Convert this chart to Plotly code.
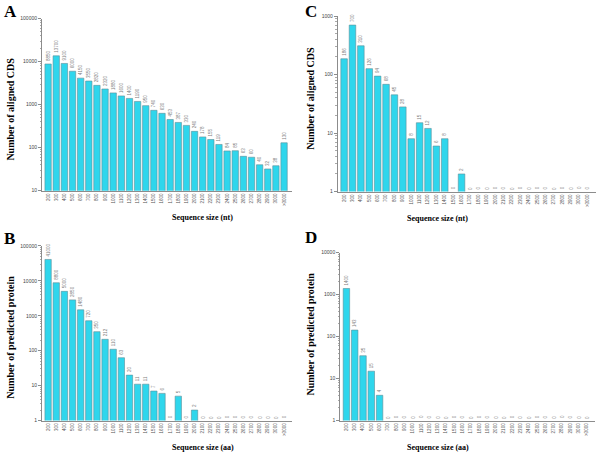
import plotly.graph_objects as go

categories = [str(v) for v in range(200, 3100, 100)] + [">3000"]

cds_nt_A = [8850, 13700, 9100, 6000, 4150, 3550, 2820, 2320, 1880, 1600,
            1400, 1190, 950, 740, 630, 453, 387, 330, 240, 178,
            155, 119, 84, 85, 63, 60, 40, 32, 38, 130]
protein_aa_B = [41000, 8800, 5000, 2850, 1480, 720, 350, 212, 110, 63,
                20, 11, 11, 7, 6, 0, 5, 0, 2, 0,
                0, 0, 0, 0, 0, 0, 0, 0, 0, 0]
cds_nt_C = [186, 700, 310, 126, 94, 68, 45, 28, 8, 15,
            12, 6, 8, 0, 2, 0, 0, 0, 0, 0,
            0, 0, 0, 0, 0, 0, 0, 0, 0, 0]
protein_aa_D = [1400, 143, 35, 15, 4, 0, 0, 0, 0, 0,
                0, 0, 0, 0, 0, 0, 0, 0, 0, 0,
                0, 0, 0, 0, 0, 0, 0, 0, 0, 0]

panels = [
    dict(letter="A", vals=cds_nt_A, ytitle="Number of aligned CDS", xtitle="Sequence size (nt)",
         xdom=[0.070, 0.487], ydom=[0.582, 0.965], yr=[1, 5],
         letter_xy=(0.003, 0.980), ytitle_xy=(0.017, 0.763)),
    dict(letter="C", vals=cds_nt_C, ytitle="Number of aligned CDS", xtitle="Sequence size (nt)",
         xdom=[0.563, 0.993], ydom=[0.580, 0.971], yr=[0, 3],
         letter_xy=(0.505, 0.980), ytitle_xy=(0.517, 0.787)),
    dict(letter="B", vals=protein_aa_B, ytitle="Number of predicted protein", xtitle="Sequence size (aa)",
         xdom=[0.070, 0.487], ydom=[0.070, 0.459], yr=[0, 5],
         letter_xy=(0.003, 0.475), ytitle_xy=(0.017, 0.255)),
    dict(letter="D", vals=protein_aa_D, ytitle="Number of predicted protein", xtitle="Sequence size (aa)",
         xdom=[0.567, 0.992], ydom=[0.070, 0.444], yr=[0, 4],
         letter_xy=(0.505, 0.477), ytitle_xy=(0.517, 0.262)),
]

BAR = "#2fd6ec"
EDGE = "#5d8f99"
AX = "#8c8c8c"
SERIF = "Liberation Serif, Times New Roman, serif"
SANS = "Liberation Sans, Arial, sans-serif"

fig = go.Figure()
annotations = []
for i, p in enumerate(panels, start=1):
    xa = "x" if i == 1 else f"x{i}"
    ya = "y" if i == 1 else f"y{i}"
    vals = p["vals"]
    xs = [c for c, v in zip(categories, vals) if v > 0]
    ys = [v for v in vals if v > 0]
    fig.add_trace(go.Bar(
        x=xs, y=ys, xaxis=xa, yaxis=ya,
        marker=dict(color=BAR, line=dict(color=EDGE, width=0.6)),
        text=[str(v) for v in ys], textposition="outside", textangle=-90,
        textfont=dict(size=4.5, color="#808080", family=SANS),
        constraintext="none", cliponaxis=False, showlegend=False,
    ))
    for idx, v in enumerate(vals):
        if v == 0:
            annotations.append(dict(x=idx, y=p["yr"][0], xref=xa, yref=ya, text="0",
                                    textangle=-90, showarrow=False, yanchor="bottom",
                                    font=dict(size=4.5, color="#888888", family=SANS)))
    lo, hi = p["yr"]
    tickvals = [10 ** k for k in range(lo, hi + 1)]
    ticktext = [str(t) for t in tickvals]
    fig.update_layout(**{
        ("xaxis" if i == 1 else f"xaxis{i}"): dict(
            domain=p["xdom"], anchor=ya, type="category", range=[-0.75, 30.0],
            showline=True, linecolor=AX, linewidth=1, ticks="", tickangle=-90,
            tickfont=dict(size=4.5, color="#555555", family=SANS), showgrid=False,
            categoryorder="array", categoryarray=categories),
        ("yaxis" if i == 1 else f"yaxis{i}"): dict(
            domain=p["ydom"], anchor=xa, type="log", range=[lo, hi],
            showline=True, linecolor=AX, linewidth=1, ticks="outside", ticklen=3,
            tickcolor=AX, tickvals=tickvals, ticktext=ticktext,
            tickfont=dict(size=5, color="#444444", family=SANS), showgrid=False,
            minor=dict(ticks="outside", ticklen=1.5, tickcolor="#aaaaaa", dtick="D1")),
    })
    xd, yd = p["xdom"], p["ydom"]
    lx, ly = p["letter_xy"]
    annotations.append(dict(x=lx, y=ly, xref="paper", yref="paper",
                            text=f"<b>{p['letter']}</b>", showarrow=False,
                            xanchor="left", yanchor="middle",
                            font=dict(size=17, color="black", family=SERIF)))
    tx, ty = p["ytitle_xy"]
    annotations.append(dict(x=tx, y=ty, xref="paper", yref="paper",
                            text=f"<b>{p['ytitle']}</b>", showarrow=False, textangle=-90,
                            xanchor="center", yanchor="middle",
                            font=dict(size=10, color="black", family=SERIF)))
    annotations.append(dict(x=(xd[0] + xd[1]) / 2 + 0.005, y=yd[0] - 0.06, xref="paper", yref="paper",
                            text=f"<b>{p['xtitle']}</b>", showarrow=False, yanchor="middle",
                            font=dict(size=8, color="black", family=SERIF)))

fig.update_layout(
    width=600, height=455, margin=dict(l=0, r=0, t=0, b=0),
    paper_bgcolor="white", plot_bgcolor="white", bargap=0.22,
    annotations=annotations,
)
fig.write_html("out.html", config={"displayModeBar": False},
               post_script="document.body.style.margin='0';")
